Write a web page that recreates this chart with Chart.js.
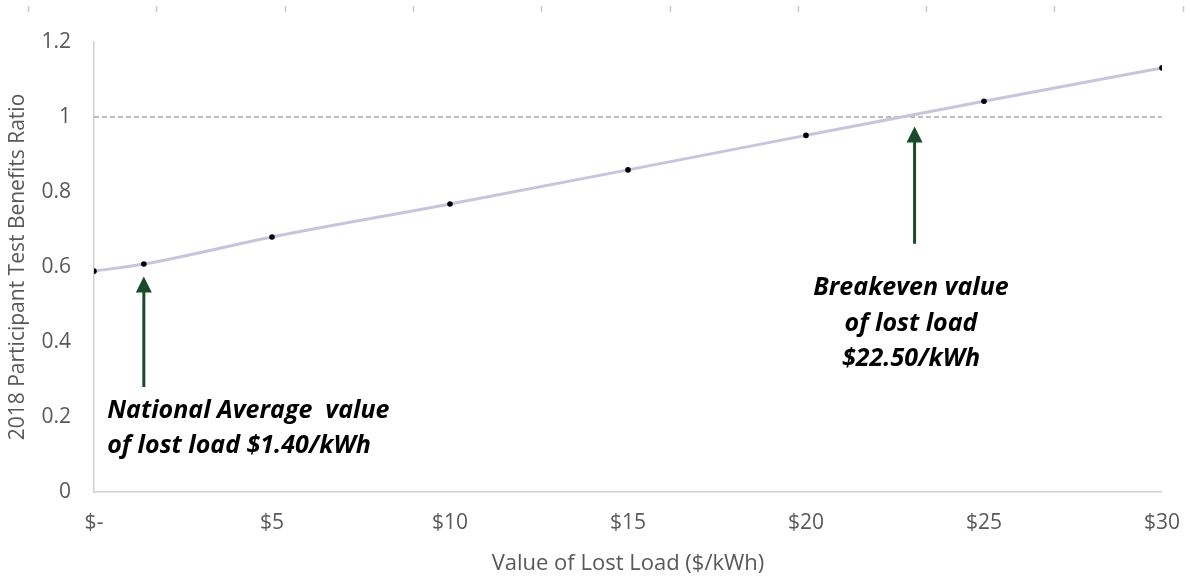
<!DOCTYPE html>
<html>
<head>
<meta charset="utf-8">
<script src="https://cdn.jsdelivr.net/npm/chart.js@4"></script>
<style>
  html, body { margin: 0; padding: 0; background: #fff; }
  #wrap { width: 1190px; height: 580px; }
</style>
</head>
<body>
<div id="wrap"><canvas id="ratioChart"></canvas></div>
<script>
'use strict';

// データ（値は図から読み取り）
const lostLoadValues = [0, 1.4, 5, 10, 15, 20, 25, 30];
const benefitsRatio = [0.589, 0.608, 0.680, 0.768, 0.859, 0.951, 1.042, 1.131];
const breakevenRatio = 1;
const xTickValues = [0, 5, 10, 15, 20, 25, 30];
const yTickValues = [0, 0.2, 0.4, 0.6, 0.8, 1, 1.2];

// 注釈
const nationalAvgX = 1.4;
const breakevenX = 23.05;
const nationalAvgText = ['National Average  value', 'of lost load $1.40/kWh'];
const breakevenText = ['Breakeven value', 'of lost load', '$22.50/kWh'];

const gray = '#595959';
const arrowGreen = '#1b4a2a';
const fontFamily = '"Open Sans"';

function drawArrow(ctx, x, yTail, yTip) {
    ctx.save();
    ctx.strokeStyle = arrowGreen;
    ctx.fillStyle = arrowGreen;
    ctx.lineWidth = 3;
    ctx.beginPath();
    ctx.moveTo(x, yTail);
    ctx.lineTo(x, yTip + 14);
    ctx.stroke();
    ctx.beginPath();
    ctx.moveTo(x, yTip);
    ctx.lineTo(x - 8, yTip + 16);
    ctx.lineTo(x + 8, yTip + 16);
    ctx.closePath();
    ctx.fill();
    ctx.restore();
}

// 注釈プラグイン
const annotationPlugin = {
    id: 'annotations',
    afterDatasetsDraw(chart) {
        const ctx = chart.ctx;
        const xs = chart.scales.x;
        const ys = chart.scales.y;

        // 上端の小さな目盛り（元画像の名残）
        ctx.save();
        ctx.strokeStyle = '#c8c8c8';
        ctx.lineWidth = 1.5;
        for (let i = 0; i < 10; i++) {
            const px = Math.round(28 + i * 128.3) + 0.5;
            ctx.beginPath();
            ctx.moveTo(px, 6);
            ctx.lineTo(px, 12);
            ctx.stroke();
        }
        ctx.restore();

        // 矢印
        drawArrow(ctx, xs.getPixelForValue(nationalAvgX), ys.getPixelForValue(0.28), ys.getPixelForValue(0.575));
        drawArrow(ctx, xs.getPixelForValue(breakevenX), ys.getPixelForValue(0.662), ys.getPixelForValue(0.975));

        // テキスト
        ctx.save();
        ctx.fillStyle = '#000';
        ctx.font = 'italic bold 25px ' + fontFamily;
        ctx.textBaseline = 'middle';
        ctx.textAlign = 'left';
        const leftX = xs.getPixelForValue(0.37);
        nationalAvgText.forEach((t, i) => {
            ctx.fillText(t, leftX, ys.getPixelForValue(0.216) + i * 35);
        });
        ctx.textAlign = 'center';
        const midX = xs.getPixelForValue(22.95);
        breakevenText.forEach((t, i) => {
            ctx.fillText(t, midX, ys.getPixelForValue(0.544) + i * 35.5);
        });
        ctx.restore();
    }
};

const chart = new Chart(
    document.getElementById('ratioChart'),
    {
        type: 'line',
        data: {
            datasets: [
                {
                    // 破線 (1.0)
                    data: [{ x: 0, y: breakevenRatio }, { x: 30, y: breakevenRatio }],
                    borderColor: '#7f7f7f',
                    borderWidth: 1.2,
                    borderDash: [5, 3],
                    pointRadius: 0,
                    order: 2
                },
                {
                    data: lostLoadValues.map((v, i) => ({ x: v, y: benefitsRatio[i] })),
                    borderColor: '#c9c4de',
                    borderWidth: 3,
                    cubicInterpolationMode: 'monotone',
                    pointRadius: 2.8,
                    pointBackgroundColor: '#000',
                    pointBorderColor: '#000',
                    pointBorderWidth: 0,
                    order: 1
                }
            ]
        },
        options: {
            responsive: true,
            maintainAspectRatio: false,
            animation: false,
            layout: {
                padding: { top: 42, right: 28, left: 0, bottom: 0 }
            },
            plugins: {
                legend: { display: false },
                tooltip: { enabled: false }
            },
            scales: {
                x: {
                    type: 'linear',
                    min: 0,
                    max: 30,
                    afterBuildTicks: (s) => { s.ticks = xTickValues.map(v => ({ value: v })); },
                    afterFit: (s) => { s.height = 88; },
                    grid: { display: false },
                    border: { color: '#d0d0d0', width: 1.5 },
                    ticks: {
                        color: gray,
                        font: { family: fontFamily, size: 21 },
                        padding: 10,
                        maxRotation: 0,
                        callback: (v) => v === 0 ? '$-' : '$' + v
                    },
                    title: {
                        display: true,
                        text: 'Value of Lost Load ($/kWh)',
                        color: gray,
                        font: { family: fontFamily, size: 22 },
                        padding: { top: 4, bottom: 3 }
                    }
                },
                y: {
                    min: 0,
                    max: 1.2,
                    afterBuildTicks: (s) => { s.ticks = yTickValues.map(v => ({ value: v })); },
                    afterFit: (s) => { s.width = 94; },
                    grid: { display: false },
                    border: { color: '#d0d0d0', width: 1.5 },
                    ticks: {
                        color: gray,
                        font: { family: fontFamily, size: 21 },
                        padding: 15,
                        callback: (v) => String(v)
                    },
                    title: {
                        display: true,
                        text: '2018 Participant Test Benefits Ratio',
                        color: gray,
                        font: { family: fontFamily, size: 21 },
                        padding: { top: 5, bottom: 4 }
                    }
                }
            }
        },
        plugins: [annotationPlugin]
    }
);
chart.update();
</script>
</body>
</html>
